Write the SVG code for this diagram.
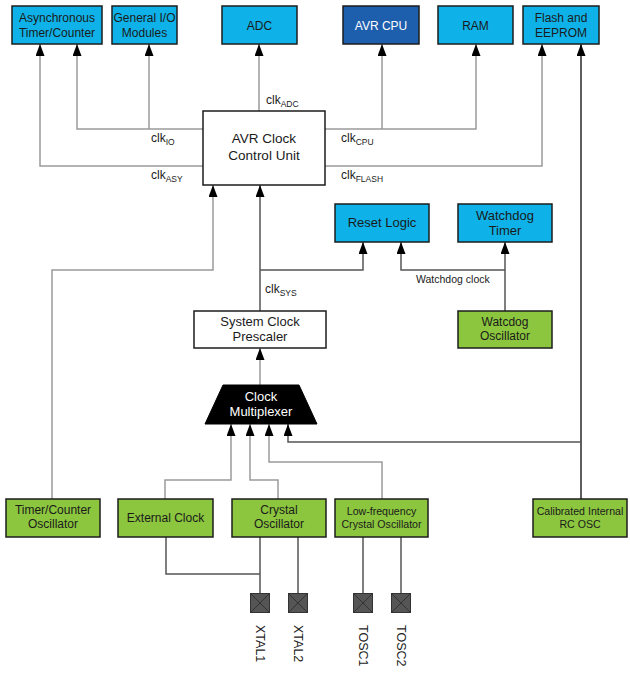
<svg xmlns="http://www.w3.org/2000/svg" width="630" height="673" viewBox="0 0 630 673">
<style>
text{font-family:"Liberation Sans",Arial,sans-serif;fill:#1a1a1a;}
.t13{font-size:13px;text-anchor:middle;}
.t12{font-size:12px;text-anchor:middle;}
.t11{font-size:10.6px;text-anchor:middle;}
.lbl{font-size:12px;}
.sub{font-size:8.5px;}
.blue{fill:#0fb2e8;stroke:#1c1c1c;stroke-width:1.5;}
.dblue{fill:#1d5ead;stroke:#1c1c1c;stroke-width:1.5;}
.green{fill:#8cc63f;stroke:#1c1c1c;stroke-width:1.5;}
.white{fill:#ffffff;stroke:#1c1c1c;stroke-width:1.5;}
.ln{fill:none;stroke:#9a9a9a;stroke-width:1.5;}
.dk{stroke:#555555;}
.blk{stroke:#2a2a2a;}
.arr{marker-end:url(#ah);}
.pin{fill:#555555;stroke:#333333;stroke-width:1;}
.px{stroke:#333333;stroke-width:1;}
</style>
<defs>
<marker id="ah" markerUnits="userSpaceOnUse" markerWidth="12" markerHeight="9" refX="12" refY="4.5" orient="auto">
<path d="M0,0 L12,4.5 L0,9 z" fill="#000000"/>
</marker>
</defs>

<g id="connectors">
<polyline class="ln arr" points="203,166 40,166 40,44"/>
<polyline class="ln arr" points="203,129 77,129 77,44"/>
<polyline class="ln arr" points="149,129 149,44"/>
<polyline class="ln arr" points="259,111 259,44"/>
<polyline class="ln arr" points="325,129 476,129 476,44"/>
<polyline class="ln arr" points="382,129 382,44"/>
<polyline class="ln arr" points="325,166 542,166 542,44"/>
<polyline class="ln blk arr" points="581,499 581,44"/>
<polyline class="ln arr" points="52,499 52,270 213,270 213,185"/>
<polyline class="ln dk arr" points="260,311 260,185"/>
<polyline class="ln dk arr" points="260,270 363,270 363,242"/>
<polyline class="ln dk arr" points="505,311 505,242"/>
<polyline class="ln dk arr" points="505,270 401,270 401,242"/>
<polyline class="ln arr" points="260,385 260,348"/>
<polyline class="ln arr" points="165,499 165,480 231,480 231,424"/>
<polyline class="ln arr" points="278,499 278,480 250,480 250,424"/>
<polyline class="ln arr" points="382,499 382,462 269,462 269,424"/>
<polyline class="ln dk arr" points="581,442 288,442 288,424"/>
<polyline class="ln dk" points="166,537 166,574 260,574"/>
<polyline class="ln dk" points="260,537 260,593"/>
<polyline class="ln dk" points="298,537 298,593"/>
<polyline class="ln dk" points="363,537 363,593"/>
<polyline class="ln dk" points="401,537 401,593"/>
</g>

<g id="clk-labels">
<text class="lbl" x="266" y="104">clk<tspan class="sub" dy="3">ADC</tspan></text>
<text class="lbl" x="151" y="142">clk<tspan class="sub" dy="3">IO</tspan></text>
<text class="lbl" x="151" y="179">clk<tspan class="sub" dy="3">ASY</tspan></text>
<text class="lbl" x="341" y="142">clk<tspan class="sub" dy="3">CPU</tspan></text>
<text class="lbl" x="341" y="179">clk<tspan class="sub" dy="3">FLASH</tspan></text>
<text class="lbl" x="265" y="293">clk<tspan class="sub" dy="3">SYS</tspan></text>
<text x="416" y="283" style="font-size:10.5px">Watchdog clock</text>
</g>

<g id="async-timer">
<rect class="blue" x="12" y="6" width="90" height="38"/>
<text class="t12" x="57" y="22">Asynchronous</text>
<text class="t12" x="57" y="37">Timer/Counter</text>
</g>
<g id="gpio">
<rect class="blue" x="112" y="6" width="65" height="38"/>
<text class="t12" x="144.5" y="22">General I/O</text>
<text class="t12" x="144.5" y="37">Modules</text>
</g>
<g id="adc">
<rect class="blue" x="222" y="6" width="75" height="38"/>
<text class="t12" x="259.5" y="30">ADC</text>
</g>
<g id="avr-cpu">
<rect class="dblue" x="343" y="6" width="76" height="38"/>
<text class="t12" x="381" y="30" style="fill:#ffffff">AVR CPU</text>
</g>
<g id="ram">
<rect class="blue" x="438" y="6" width="75" height="38"/>
<text class="t12" x="475.5" y="30">RAM</text>
</g>
<g id="flash">
<rect class="blue" x="523" y="6" width="76" height="38"/>
<text class="t12" x="561" y="22">Flash and</text>
<text class="t12" x="561" y="37">EEPROM</text>
</g>
<g id="clock-control">
<rect class="white" x="203" y="111" width="122" height="74"/>
<text class="t13" x="264" y="143" style="font-size:13.5px">AVR Clock</text>
<text class="t13" x="264" y="160" style="font-size:13.5px">Control Unit</text>
</g>
<g id="reset-logic">
<rect class="blue" x="335" y="204" width="94" height="38"/>
<text class="t13" x="382" y="227">Reset Logic</text>
</g>
<g id="watchdog-timer">
<rect class="blue" x="458" y="204" width="94" height="38"/>
<text class="t13" x="505" y="220">Watchdog</text>
<text class="t13" x="505" y="235">Timer</text>
</g>
<g id="prescaler">
<rect class="white" x="194" y="311" width="132" height="37"/>
<text class="t13" x="260" y="326">System Clock</text>
<text class="t13" x="260" y="341">Prescaler</text>
</g>
<g id="watchdog-osc">
<rect class="green" x="458" y="311" width="94" height="37"/>
<text class="t12" x="505" y="326">Watcdog</text>
<text class="t12" x="505" y="340">Oscillator</text>
</g>
<g id="clock-mux">
<polygon points="223,385 299,385 317,424 205,424" fill="#000000" stroke="#000000" stroke-width="1"/>
<text class="t13" x="261" y="401" style="fill:#ffffff">Clock</text>
<text class="t13" x="261" y="416" style="fill:#ffffff">Multiplexer</text>
</g>
<g id="timer-osc">
<rect class="green" x="6" y="499" width="94" height="38"/>
<text class="t12" x="53" y="514">Timer/Counter</text>
<text class="t12" x="53" y="528">Oscillator</text>
</g>
<g id="external-clock">
<rect class="green" x="118" y="499" width="95" height="38"/>
<text class="t12" x="165.5" y="522">External Clock</text>
</g>
<g id="crystal-osc">
<rect class="green" x="232" y="499" width="94" height="38"/>
<text class="t12" x="279" y="514">Crystal</text>
<text class="t12" x="279" y="528">Oscillator</text>
</g>
<g id="lowfreq-osc">
<rect class="green" x="335" y="499" width="93" height="38"/>
<text class="t11" x="381.5" y="515">Low-frequency</text>
<text class="t11" x="381.5" y="528">Crystal Oscillator</text>
</g>
<g id="rc-osc">
<rect class="green" x="533" y="499" width="94" height="38"/>
<text class="t11" x="580" y="515">Calibrated Internal</text>
<text class="t11" x="580" y="528">RC OSC</text>
</g>

<g id="pin-xtal1">
<rect class="pin" x="250.5" y="593.5" width="19" height="19"/>
<path class="px" d="M250.5,593.5 L269.5,612.5 M269.5,593.5 L250.5,612.5"/>
<text transform="translate(255.6,625) rotate(90)" style="font-size:12.5px">XTAL1</text>
</g>
<g id="pin-xtal2">
<rect class="pin" x="288.5" y="593.5" width="19" height="19"/>
<path class="px" d="M288.5,593.5 L307.5,612.5 M307.5,593.5 L288.5,612.5"/>
<text transform="translate(293.6,625) rotate(90)" style="font-size:12.5px">XTAL2</text>
</g>
<g id="pin-tosc1">
<rect class="pin" x="353.5" y="593.5" width="19" height="19"/>
<path class="px" d="M353.5,593.5 L372.5,612.5 M372.5,593.5 L353.5,612.5"/>
<text transform="translate(358.6,625) rotate(90)" style="font-size:12.5px">TOSC1</text>
</g>
<g id="pin-tosc2">
<rect class="pin" x="391.5" y="593.5" width="19" height="19"/>
<path class="px" d="M391.5,593.5 L410.5,612.5 M410.5,593.5 L391.5,612.5"/>
<text transform="translate(396.6,625) rotate(90)" style="font-size:12.5px">TOSC2</text>
</g>
</svg>
